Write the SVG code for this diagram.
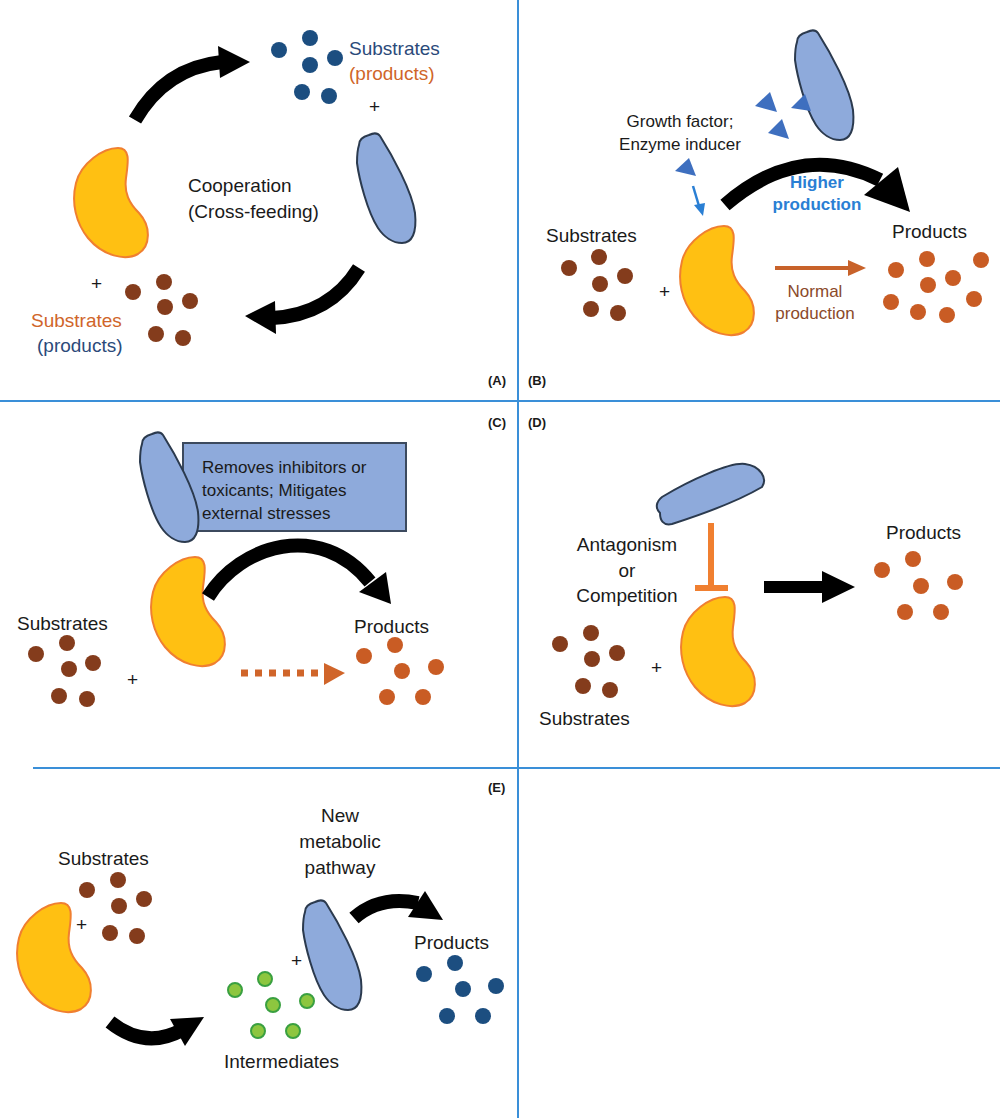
<svg xmlns="http://www.w3.org/2000/svg" xmlns:xlink="http://www.w3.org/1999/xlink" width="1000" height="1118" viewBox="0 0 1000 1118">
<style>
text{font-family:"Liberation Sans",Arial,sans-serif;fill:#1a1a1a}
.t{font-size:19px}.s{font-size:17px}.lab{font-size:13px;font-weight:bold}
.div{stroke:#3a8fd8;stroke-width:2}
.bean{fill:#ffc012;stroke:#f07f30;stroke-width:2}
.cell{fill:#8eaadb;stroke:#2b3a4e;stroke-width:2}
.db{fill:#1c4e80}.br{fill:#843c1c}.or{fill:#c95c24}.gr{fill:#8dc63f;stroke:#3aa040;stroke-width:2}
.arr{fill:none;stroke:#000;stroke-width:14}
.tri{fill:#3e6fbf}
</style>
<defs>
<path id="bean" d="M45,0 C58,0 55,15 53,30 C51,45 56,55 66,65 C78,78 78,98 65,106 C52,113 30,108 15,90 C3,75 -2,55 3,35 C8,15 30,0 45,0 Z"/>
<path id="cell" d="M2,12 C2,5 8,3 12,2 C16,0 20,-1 23,3 C35,22 55,58 58,80 C60,100 55,110 45,110 C36,110 27,104 21,95 C10,78 2,45 0,30 C0,20 1,15 2,12 Z"/>
</defs>
<g id="dividers">
<line class="div" x1="518" y1="0" x2="518" y2="1118"/>
<line class="div" x1="0" y1="401" x2="1000" y2="401"/>
<line class="div" x1="33" y1="768" x2="1000" y2="768"/>
</g>
<g id="labels">
<text class="lab" x="488" y="385">(A)</text><text class="lab" x="528" y="385">(B)</text>
<text class="lab" x="488" y="427">(C)</text><text class="lab" x="528" y="427">(D)</text>
<text class="lab" x="488" y="792">(E)</text>
</g>
<g id="connectors">
<path class="arr" d="M135,120 Q165,68 222,62"/>
<polygon points="218,46 250,62 220,78"/>
<path class="arr" d="M359,268 Q330,315 272,318"/>
<polygon points="275,301 245,316 276,334"/>
</g>
<g id="panelA">
<use href="#bean" class="bean" x="73" y="148"/>
<use href="#cell" class="cell" x="357" y="133"/>
<g class="db"><circle cx="279" cy="50" r="8"/><circle cx="310" cy="38" r="8"/><circle cx="335" cy="58" r="8"/><circle cx="310" cy="65" r="8"/><circle cx="302" cy="92" r="8"/><circle cx="329" cy="96" r="8"/></g>
<text class="t" x="349" y="55" style="fill:#2b4a7a">Substrates</text>
<text class="t" x="349" y="80" style="fill:#d0652a">(products)</text>
<text class="t" x="369" y="113">+</text>
<g class="br"><circle cx="133" cy="292" r="8"/><circle cx="164" cy="282" r="8"/><circle cx="190" cy="301" r="8"/><circle cx="165" cy="307" r="8"/><circle cx="156" cy="334" r="8"/><circle cx="183" cy="338" r="8"/></g>
<text class="t" x="91" y="290">+</text>
<text class="t" x="31" y="327" style="fill:#d0652a">Substrates</text>
<text class="t" x="37" y="352" style="fill:#2b4a7a">(products)</text>
<text class="t" x="188" y="192">Cooperation</text>
<text class="t" x="188" y="218">(Cross-feeding)</text>
</g>
<g id="panelB">
<use href="#cell" class="cell" x="795" y="30"/>
<polygon class="tri" points="755,106 770,92 777,112"/>
<polygon class="tri" points="791,108 805,94 811,111"/>
<polygon class="tri" points="768,133 782,119 789,139"/>
<polygon class="tri" points="675,171 689,158 696,176"/>
<line x1="693" y1="186" x2="699" y2="206" stroke="#2a7fd4" stroke-width="2.5"/>
<polygon points="694,205 703,216 705,203" fill="#2a7fd4"/>
<text class="s" x="680" y="127" text-anchor="middle">Growth factor;</text>
<text class="s" x="680" y="150" text-anchor="middle">Enzyme inducer</text>
<use href="#bean" class="bean" x="679" y="226"/>
<text class="t" x="546" y="242">Substrates</text>
<g class="br"><circle cx="569" cy="268" r="8"/><circle cx="599" cy="257" r="8"/><circle cx="625" cy="276" r="8"/><circle cx="600" cy="284" r="8"/><circle cx="591" cy="309" r="8"/><circle cx="618" cy="313" r="8"/></g>
<text class="t" x="659" y="298">+</text>
<text class="t" x="892" y="238">Products</text>
<g class="or"><circle cx="896" cy="270" r="8"/><circle cx="927" cy="259" r="8"/><circle cx="981" cy="260" r="8"/><circle cx="928" cy="285" r="8"/><circle cx="953" cy="278" r="8"/><circle cx="891" cy="302" r="8"/><circle cx="918" cy="312" r="8"/><circle cx="947" cy="315" r="8"/><circle cx="974" cy="299" r="8"/></g>
<line x1="775" y1="268" x2="850" y2="268" stroke="#c8622a" stroke-width="4"/>
<polygon points="848,260 866,268 848,276" fill="#c8622a"/>
<text class="s" x="815" y="297" text-anchor="middle" style="fill:#8b4a2a">Normal</text>
<text class="s" x="815" y="319" text-anchor="middle" style="fill:#8b4a2a">production</text>
<path class="arr" d="M725,205 Q800,140 880,180"/>
<polygon points="864,195 898,167 910,212"/>
<text class="s" x="817" y="188" text-anchor="middle" style="fill:#2a7fd4;font-weight:bold">Higher</text>
<text class="s" x="817" y="210" text-anchor="middle" style="fill:#2a7fd4;font-weight:bold">production</text>
</g>
<g id="panelC">
<rect x="183" y="443" width="223" height="88" fill="#8eaadb" stroke="#3c4a5e" stroke-width="2"/>
<use href="#cell" class="cell" x="140" y="432"/>
<text class="s" x="202" y="473">Removes inhibitors or</text>
<text class="s" x="202" y="496">toxicants; Mitigates</text>
<text class="s" x="202" y="519">external stresses</text>
<use href="#bean" class="bean" x="150" y="557"/>
<text class="t" x="17" y="630">Substrates</text>
<g class="br"><circle cx="36" cy="654" r="8"/><circle cx="67" cy="643" r="8"/><circle cx="93" cy="663" r="8"/><circle cx="69" cy="669" r="8"/><circle cx="59" cy="696" r="8"/><circle cx="87" cy="699" r="8"/></g>
<text class="t" x="127" y="686">+</text>
<path class="arr" d="M208,597 C240,545 320,520 370,582"/>
<polygon points="359,592 386,572 391,604"/>
<line x1="241" y1="673" x2="325" y2="673" stroke="#d0652a" stroke-width="7" stroke-dasharray="7,7"/>
<polygon points="324,663 345,673 324,685" fill="#d0652a"/>
<text class="t" x="354" y="633">Products</text>
<g class="or"><circle cx="364" cy="656" r="8"/><circle cx="395" cy="645" r="8"/><circle cx="402" cy="671" r="8"/><circle cx="436" cy="667" r="8"/><circle cx="387" cy="697" r="8"/><circle cx="423" cy="697" r="8"/></g>
</g>
<g id="panelD">
<path class="cell" d="M662,497 C690,480 730,462 745,464 C760,466 768,478 762,487 C740,500 700,515 672,524 C663,526 660,520 660,513 C655,508 656,502 662,497 Z"/>
<line x1="711" y1="523" x2="711" y2="586" stroke="#f07f30" stroke-width="6"/>
<line x1="695" y1="588" x2="728" y2="588" stroke="#f07f30" stroke-width="6"/>
<text class="t" x="627" y="551" text-anchor="middle">Antagonism</text>
<text class="t" x="627" y="577" text-anchor="middle">or</text>
<text class="t" x="627" y="602" text-anchor="middle">Competition</text>
<use href="#bean" class="bean" x="680" y="597"/>
<rect x="764" y="581" width="60" height="12"/>
<polygon points="822,571 855,587 822,603"/>
<text class="t" x="886" y="539">Products</text>
<g class="or"><circle cx="882" cy="570" r="8"/><circle cx="913" cy="559" r="8"/><circle cx="921" cy="586" r="8"/><circle cx="955" cy="582" r="8"/><circle cx="905" cy="612" r="8"/><circle cx="941" cy="612" r="8"/></g>
<g class="br"><circle cx="560" cy="644" r="8"/><circle cx="591" cy="633" r="8"/><circle cx="617" cy="653" r="8"/><circle cx="592" cy="659" r="8"/><circle cx="583" cy="686" r="8"/><circle cx="610" cy="690" r="8"/></g>
<text class="t" x="651" y="674">+</text>
<text class="t" x="539" y="725">Substrates</text>
</g>
<g id="panelE">
<use href="#bean" class="bean" x="16" y="903"/>
<text class="t" x="58" y="865">Substrates</text>
<g class="br"><circle cx="87" cy="890" r="8"/><circle cx="118" cy="880" r="8"/><circle cx="144" cy="899" r="8"/><circle cx="119" cy="906" r="8"/><circle cx="110" cy="933" r="8"/><circle cx="137" cy="936" r="8"/></g>
<text class="t" x="76" y="931">+</text>
<path class="arr" d="M110,1022 Q145,1050 182,1030"/>
<polygon points="170,1019 204,1017 185,1046"/>
<text class="t" x="224" y="1068">Intermediates</text>
<g class="gr"><circle cx="235" cy="990" r="7"/><circle cx="265" cy="979" r="7"/><circle cx="273" cy="1005" r="7"/><circle cx="307" cy="1001" r="7"/><circle cx="258" cy="1031" r="7"/><circle cx="293" cy="1031" r="7"/></g>
<use href="#cell" class="cell" x="303" y="900"/>
<text class="t" x="291" y="967">+</text>
<text class="t" x="340" y="822" text-anchor="middle">New</text>
<text class="t" x="340" y="848" text-anchor="middle">metabolic</text>
<text class="t" x="340" y="874" text-anchor="middle">pathway</text>
<path class="arr" d="M354,918 Q380,895 418,903"/>
<polygon points="408,917 443,920 425,891"/>
<text class="t" x="414" y="949">Products</text>
<g class="db"><circle cx="424" cy="974" r="8"/><circle cx="455" cy="963" r="8"/><circle cx="463" cy="989" r="8"/><circle cx="496" cy="986" r="8"/><circle cx="447" cy="1016" r="8"/><circle cx="483" cy="1016" r="8"/></g>
</g>
</svg>
